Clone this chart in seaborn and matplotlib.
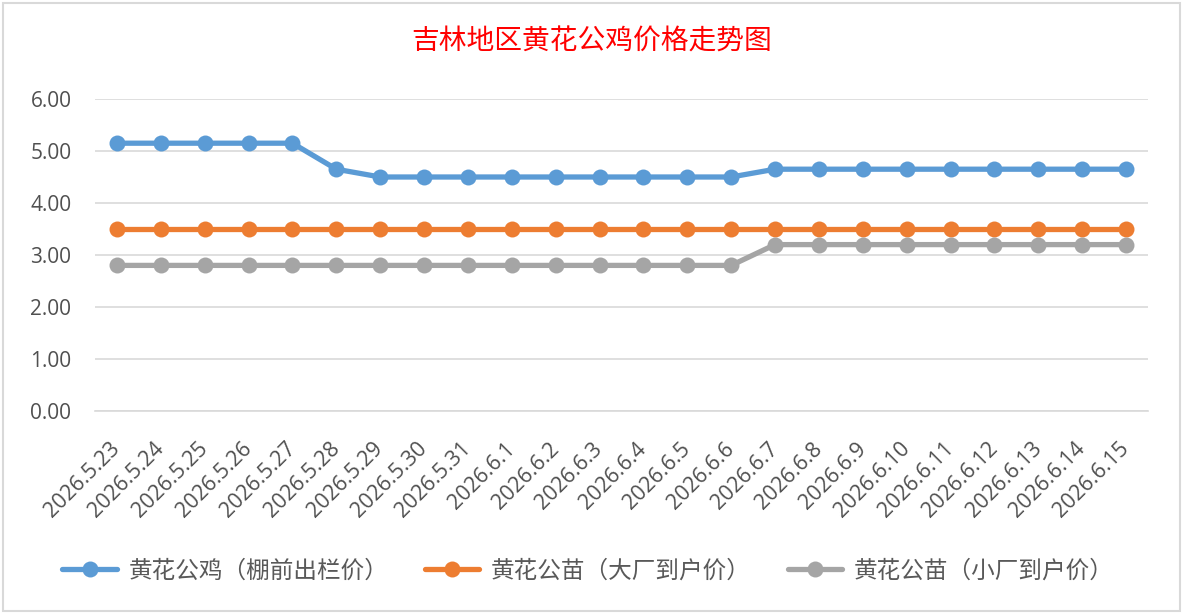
import pandas as pd
import seaborn as sns
import matplotlib.pyplot as plt
from matplotlib.patches import Rectangle

dates = ["2026.5.23", "2026.5.24", "2026.5.25", "2026.5.26", "2026.5.27", "2026.5.28",
         "2026.5.29", "2026.5.30", "2026.5.31", "2026.6.1", "2026.6.2", "2026.6.3",
         "2026.6.4", "2026.6.5", "2026.6.6", "2026.6.7", "2026.6.8", "2026.6.9",
         "2026.6.10", "2026.6.11", "2026.6.12", "2026.6.13", "2026.6.14", "2026.6.15"]

rooster = [5.15, 5.15, 5.15, 5.15, 5.15, 4.65, 4.5, 4.5, 4.5, 4.5, 4.5, 4.5,
           4.5, 4.5, 4.5, 4.65, 4.65, 4.65, 4.65, 4.65, 4.65, 4.65, 4.65, 4.65]
chick_big = [3.5, 3.5, 3.5, 3.5, 3.5, 3.5, 3.5, 3.5, 3.5, 3.5, 3.5, 3.5,
             3.5, 3.5, 3.5, 3.5, 3.5, 3.5, 3.5, 3.5, 3.5, 3.5, 3.5, 3.5]
chick_small = [2.8, 2.8, 2.8, 2.8, 2.8, 2.8, 2.8, 2.8, 2.8, 2.8, 2.8, 2.8,
               2.8, 2.8, 2.8, 3.2, 3.2, 3.2, 3.2, 3.2, 3.2, 3.2, 3.2, 3.2]

series_names = ["黄花公鸡（棚前出栏价）", "黄花公苗（大厂到户价）", "黄花公苗（小厂到户价）"]
series_colors = ["#5B9BD5", "#ED7D31", "#A5A5A5"]

rows = []
for name, vals in zip(series_names, [rooster, chick_big, chick_small]):
    for d, v in zip(dates, vals):
        rows.append({"date": d, "price": v, "series": name})
df = pd.DataFrame(rows)

sns.set_theme(style="white")
plt.rcParams["font.family"] = ["Noto Sans CJK SC", "DejaVu Sans"]

fig = plt.figure(figsize=(11.83, 6.16), dpi=100)
ax = fig.add_axes([95 / 1183, 205 / 616, (1148 - 95) / 1183, (411 - 99) / 616])

sns.lineplot(data=df, x="date", y="price", hue="series", palette=series_colors,
             hue_order=series_names, sort=False, marker="o", markersize=11.5,
             markeredgewidth=0, linewidth=3.8, ax=ax, legend=False)

n = len(dates)
ax.set_xlim(-0.5, n - 0.5)
ax.set_ylim(0, 6)
ax.set_yticks([0, 1, 2, 3, 4, 5, 6])
ax.set_yticklabels([f"{v:.2f}" for v in range(7)], fontsize=15, color="#505050",
                   family=["Open Sans", "DejaVu Sans"])
ax.set_xticks(range(n))
ax.set_xticklabels(dates, rotation=45, ha="right", va="center", rotation_mode="anchor",
                   fontsize=15.5, color="#505050", family=["Open Sans", "DejaVu Sans"])
ax.tick_params(axis="x", length=0, pad=25)
ax.tick_params(axis="y", length=0, pad=17)
ax.grid(axis="y", color="#D9D9D9", linewidth=1.2)
ax.set_axisbelow(True)
ax.set_xlabel("")
ax.set_ylabel("")
for side in ["top", "right", "left"]:
    ax.spines[side].set_visible(False)
ax.spines["bottom"].set_color("#D9D9D9")
ax.spines["bottom"].set_linewidth(1.2)

fig.text(0.5, 1 - 42 / 616, "吉林地区黄花公鸡价格走势图", ha="center", va="center",
         fontsize=20, color="#FF0000", fontweight="medium")

handles = [plt.Line2D([], [], color=c, linewidth=3.8, marker="o", markersize=11.5,
                      markeredgewidth=0) for c in series_colors]
fig.legend(handles, series_names, loc="center", bbox_to_anchor=(0.497, 1 - 571 / 616),
           ncol=3, frameon=False, fontsize=17, labelcolor="#595959",
           handlelength=2.3, handletextpad=0.5, columnspacing=1.55)

fig.patches.append(Rectangle((3 / 1183, 5 / 616), 1177 / 1183, 608 / 616,
                             transform=fig.transFigure, fill=False,
                             edgecolor="#D9D9D9", linewidth=1.5))

fig.savefig("out.png", dpi=100)
